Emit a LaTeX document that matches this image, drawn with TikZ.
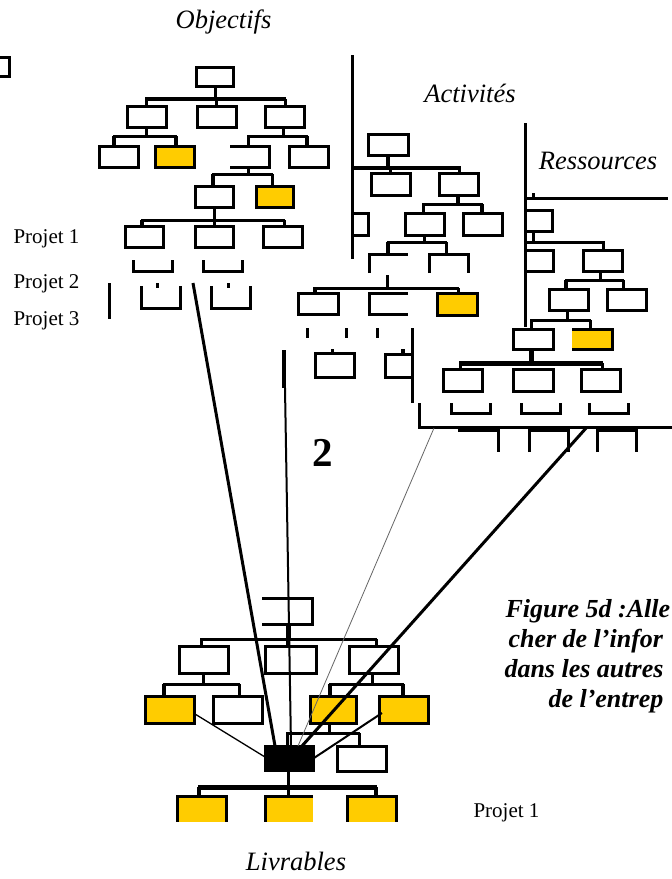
\documentclass[tikz,border=0pt]{standalone}
\usepackage{fontspec}
\setmainfont{Liberation Serif}
\definecolor{ylw}{RGB}{255,204,0}
\begin{document}
\begin{tikzpicture}[x=1pt,y=-1pt,
  line width=3pt, line join=miter,
  bx/.style={draw=black,fill=white,line width=3pt},
  yb/.style={draw=black,fill=ylw,line width=3pt},
  thk/.style={line width=4.5pt},
  lbl/.style={font=\fontsize{26.5}{30}\selectfont\itshape, anchor=base, inner sep=0pt},
  prj/.style={font=\fontsize{21}{24}\selectfont, anchor=base west, inner sep=0pt},
  capt/.style={font=\fontsize{26}{30}\selectfont\bfseries\itshape, anchor=base west, inner sep=0pt},
  link/.style={line width=3pt},
]
\clip (0,0) rectangle (672,879);
\fill[white] (0,0) rectangle (672,879);

% fragment top-left
\draw[bx] (-30,57) rectangle (9,76);

% ---------------- Objectifs ----------------
\node[lbl] (tobj) at (223.5,28) {Objectifs};
\draw[bx] (196,67) rectangle (233,86);
\draw (215,86) -- (215,99);
\draw[thk] (145,99) -- (286,99);
\draw (146,99) -- (146,106) (216,99) -- (216,106) (285,99) -- (285,106);
\draw[bx] (127,106) rectangle (166,127);
\draw[bx] (197,106) rectangle (236,127);
\draw[bx] (265,106) rectangle (304,127);
\draw (146,127) -- (146,136);
\draw (113,136) -- (177,136);
\draw[thk] (114,136) -- (114,146) (176,136) -- (176,146);
\draw[bx] (99,146) rectangle (138,167);
\draw[yb] (155,146) rectangle (194,167);
\draw (283,127) -- (283,136);
\draw (247,136) -- (308,136);
\draw (248,136) -- (248,146);
\draw[thk] (307,136) -- (307,146);
\draw (230,146) -- (269,146) -- (269,167) -- (230,167);
\draw[bx] (289,146) rectangle (328,167);
\draw (248,167) -- (248,174);
\draw (212,174) -- (273,174);
\draw[thk] (213,174) -- (213,186);
\draw (272,174) -- (272,186);
\draw[bx] (195,186) rectangle (233,207);
\draw[yb] (256,186) rectangle (293,207);
\draw (214,207) -- (214,220);
\draw (141,220) -- (285,220);
\draw[thk] (142,220) -- (142,226);
\draw (214,220) -- (214,226) (284,220) -- (284,226);
\draw[bx] (125,226) rectangle (163,247);
\draw[bx] (195,226) rectangle (233,247);
\draw[bx] (263,226) rectangle (302,247);
\draw (133,260) -- (133,271) -- (172,271) -- (172,260);
\draw (203,260) -- (203,271) -- (242,271) -- (242,260);
\draw (109,283) -- (109,319);
\draw (141,286) -- (141,308) -- (180,308) -- (180,286);
\draw (157,283) -- (157,288);
\draw (211,286) -- (211,308) -- (250,308) -- (250,286);
\draw (228,283) -- (228,288);

\node[prj] (p1) at (12,243) {Projet 1};
\node[prj] (p2) at (12,288) {Projet 2};
\node[prj] (p3) at (12,325) {Projet 3};

% ---------------- Activites ----------------
\node[lbl] (tact) at (470,102) {Activités};
\draw (352,55) -- (352,259);
\draw[bx] (368,134) rectangle (408,155);
\draw[thk] (388,155) -- (388,168);
\draw[thk] (352,168) -- (461,168);
\draw (390,168) -- (390,173) (459,168) -- (459,173);
\draw[bx] (371,173) rectangle (410,195);
\draw[bx] (439,173) rectangle (478,195);
\draw[thk] (458,195) -- (458,204);
\draw (422,204) -- (483,204);
\draw (423,204) -- (423,213);
\draw[thk] (482,204) -- (482,213);
\draw (352,213) -- (368,213) -- (368,235) -- (352,235);
\draw[bx] (405,213) rectangle (444,235);
\draw[bx] (463,213) rectangle (502,235);
\draw (424,235) -- (424,242);
\draw (387,242) -- (447,242);
\draw[thk] (388,242) -- (388,254);
\draw (446,242) -- (446,254);
\draw (369,273) -- (369,254) -- (408,254);
\draw (429,273) -- (429,254) -- (468,254) -- (468,273);
\draw (387,275) -- (387,288);
\draw (313,288) -- (459,288);
\draw[thk] (315,288) -- (315,293);
\draw (458,288) -- (458,293);
\draw[bx] (298,293) rectangle (338,314);
\draw (408,293) -- (369,293) -- (369,314) -- (408,314);
\draw[yb] (437,293) rectangle (477,315);
\draw (307,328) -- (307,338) (346,328) -- (346,338) (377,328) -- (377,338);
\draw (412,328) -- (412,403);
\draw[line width=4pt] (284,350) -- (284,388);
\draw[bx] (315,353) rectangle (354,377);
\draw (332,349) -- (332,353);
\draw (412,354) -- (385,354) -- (385,377) -- (412,377);
\draw[thk] (403,349) -- (403,354);

\node[font=\fontsize{41}{41}\selectfont\bfseries, anchor=base, inner sep=0pt] (two) at (323,466) {2};

% ---------------- Ressources ----------------
\node[lbl] (tres) at (598,169) {Ressources};
\draw (525,123) -- (525,327);
\draw (533,193) -- (533,198);
\draw (525,198) -- (668,198);
\draw (525,210) -- (552,210) -- (552,231) -- (525,231);
\draw (533,231) -- (533,242);
\draw (525,242) -- (605,242);
\draw (603,242) -- (603,250);
\draw (525,250) -- (553,250) -- (553,271) -- (525,271);
\draw[bx] (583,250) rectangle (622,271);
\draw (600,271) -- (600,280);
\draw (565,280) -- (624,280);
\draw[thk] (566,280) -- (566,289);
\draw (623,280) -- (623,289);
\draw[bx] (549,289) rectangle (588,310);
\draw[bx] (607,289) rectangle (646,310);
\draw (567,310) -- (567,320);
\draw (530,320) -- (591,320);
\draw (531,320) -- (531,329) (590,320) -- (590,329);
\draw[bx] (513,329) rectangle (553,349);
\fill[ylw] (572,329) rectangle (612,349);
\draw (572,329) -- (612,329) -- (612,349) -- (572,349);
\draw[line width=5pt] (531,349) -- (531,363);
\draw[line width=5pt] (459,363) -- (603,363);
\draw (460,363) -- (460,369) (602,363) -- (602,369);
\draw[bx] (443,369) rectangle (482,391);
\draw[bx] (513,369) rectangle (553,391);
\draw[bx] (581,369) rectangle (620,391);
\draw (451,403) -- (451,413) -- (490,413) -- (490,403);
\draw (521,403) -- (521,413) -- (560,413) -- (560,403);
\draw (589,403) -- (589,413) -- (628,413) -- (628,403);
\draw (419,403) -- (419,427) -- (680,427);
\draw (458,430) -- (498,430) -- (498,452);
\draw (475,427) -- (475,430);
\draw (529,452) -- (529,430) -- (568,430) -- (568,452);
\draw (546,427) -- (546,430);
\draw (597,452) -- (597,430) -- (636,430) -- (636,452);
\draw (617,427) -- (617,430);

% ---------------- Livrables ----------------
\draw (262,598) -- (312,598) -- (312,624) -- (262,624);
\draw[line width=5pt] (288,624) -- (288,639);
\draw (200,639) -- (377,639);
\draw (201,639) -- (201,646) (376,639) -- (376,646);
\draw[thk] (288,639) -- (288,646);
\draw[bx] (179,646) rectangle (228,673);
\draw[bx] (265,646) rectangle (316,673);
\draw[bx] (349,646) rectangle (398,673);
\draw (203,673) -- (203,684);
\draw (163,684) -- (240,684);
\draw[thk] (164,684) -- (164,696);
\draw (239,684) -- (239,696);
\draw[yb] (145,696) rectangle (194,723);
\draw[bx] (213,696) rectangle (262,723);
\draw (372,673) -- (372,684);
\draw (329,684) -- (404,684);
\draw[thk] (330,684) -- (330,696) (403,684) -- (403,696);
\draw[yb] (310,696) rectangle (356,723);
\draw[yb] (379,696) rectangle (428,723);
\draw (329,723) -- (329,733);
\draw (286,733) -- (360,733);
\draw (287,733) -- (287,746) (359,733) -- (359,746);
\node[draw=black, fill=black, line width=3pt, minimum width=48pt, minimum height=24pt, inner sep=0pt] (blk) at (289.5,758.5) {};
\draw[bx] (337,746) rectangle (386,771);
\draw (288,771) -- (288,787);
\draw[line width=5pt] (198,787) -- (377,787);
\draw[thk] (199,787) -- (199,796) (376,787) -- (376,796);
\draw (288,787) -- (288,796);
\fill[ylw] (177,796) rectangle (226,830);
\draw (177,830) -- (177,796) -- (226,796) -- (226,830);
\fill[ylw] (265,796) rectangle (313,830);
\draw (265,830) -- (265,796) -- (313,796);
\fill[ylw] (347,796) rectangle (396,830);
\draw (347,830) -- (347,796) -- (396,796) -- (396,830);
\fill[white] (150,822) rectangle (420,840);

\node[prj] (p1b) at (472,817) {Projet 1};
\node[lbl] (tliv) at (296,870) {Livrables};

% ---------------- connectors to the black box ----------------
\coordinate (o1) at (193,283);
\coordinate (a1) at (285,388);
\coordinate (r1) at (434,428);
\coordinate (r2) at (587,427);
\coordinate (y1) at (195,714);
\coordinate (y2) at (382,713);
\coordinate (b1) at (275,746);
\coordinate (b2) at (291,746);
\coordinate (b3) at (298,746);
\coordinate (b4) at (302,746);
\coordinate (b5) at (265,757);
\coordinate (b6) at (314,758);
\draw[link] (o1) -- (b1);
\draw[link, line width=2pt] (a1) -- (b2);
\draw[link, line width=0.8pt, black!60] (r1) -- (b3);
\draw[link] (r2) -- (b4);
\draw[link, line width=1.3pt] (y1) -- (b5);
\draw[link, line width=2pt] (y2) -- (b6);

% ---------------- caption (visible part) ----------------
\node[capt] (c1) at (504,617) {Figure 5d :Alle};
\node[capt] (c2) at (507,647) {cher de l’infor};
\node[capt] (c3) at (503,677) {dans les autres};
\node[capt] (c4) at (547,707) {de l’entrep};
\end{tikzpicture}
\end{document}
